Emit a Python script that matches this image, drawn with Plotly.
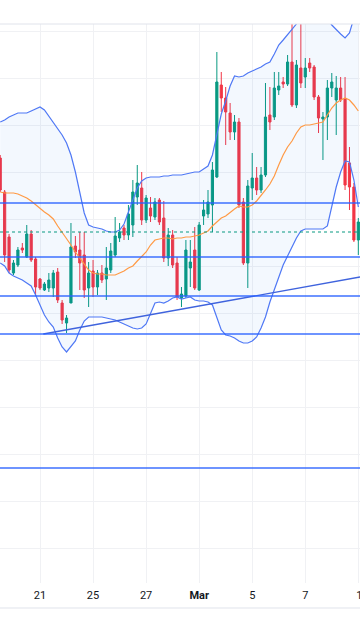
import plotly.graph_objects as go

# ---- data (price units) ----
candle_idx = list(range(82))
open_ = [842, 808, 763, 727, 735, 752, 743, 766, 741, 721, 710, 712, 712, 728, 697, 677, 697, 754, 750, 745,
         712, 729, 713, 727, 721, 730, 745, 762, 772, 765, 775, 803, 812, 780, 792, 783, 800, 782, 742, 765,
         737, 702, 704, 732, 750, 710, 784, 786, 795, 823, 915, 902, 887, 868, 878, 798, 737, 812, 822, 810,
         825, 885, 883, 910, 918, 916, 938, 895, 932, 923, 937, 933, 903, 881, 883, 912, 900, 912, 901, 837,
         813, 760]
high = [845, 810, 766, 740, 753, 757, 775, 770, 743, 722, 718, 727, 730, 732, 700, 685, 777, 764, 768, 768,
        738, 740, 730, 735, 753, 757, 783, 777, 775, 795, 820, 835, 828, 805, 803, 802, 802, 799, 772, 770,
        743, 713, 760, 760, 773, 778, 800, 810, 838, 948, 928, 913, 897, 885, 882, 802, 820, 847, 833, 833,
        917, 913, 928, 928, 923, 945, 980, 940, 980, 942, 942, 935, 905, 888, 920, 927, 924, 923, 923, 853,
        817, 782]
low = [808, 738, 727, 725, 733, 747, 742, 738, 704, 710, 709, 708, 703, 697, 676, 667, 697, 742, 710, 702,
       693, 703, 705, 717, 700, 727, 743, 758, 760, 760, 763, 795, 775, 777, 778, 780, 775, 738, 734, 732,
       700, 693, 702, 713, 710, 709, 775, 782, 768, 822, 888, 855, 860, 860, 792, 735, 712, 800, 805, 807,
       823, 870, 880, 905, 912, 914, 893, 892, 912, 912, 928, 900, 867, 840, 860, 903, 865, 898, 810, 790,
       758, 745]
close = [810, 745, 730, 737, 750, 750, 766, 740, 713, 712, 716, 720, 727, 700, 680, 682, 753, 748, 737, 710,
         727, 713, 727, 720, 732, 749, 764, 768, 765, 786, 808, 817, 780, 802, 784, 798, 778, 742, 765, 735,
         703, 706, 750, 738, 712, 775, 790, 798, 830, 918, 902, 888, 868, 878, 795, 737, 814, 822, 810, 825,
         883, 878, 912, 914, 916, 938, 895, 935, 917, 932, 932, 903, 882, 883, 912, 918, 912, 900, 815, 813,
         760, 778]

bb_upper = [878, 880, 883, 885, 887, 887, 887, 889, 891, 893, 890, 884, 877, 871, 865, 857, 845, 828, 809, 787,
            775, 773, 772, 771, 769, 768, 768, 770, 776, 788, 801, 812, 819, 822, 823, 823, 823, 824, 824, 825,
            825, 825, 826, 827, 828, 828, 831, 834, 845, 866, 886, 899, 914, 924, 923, 924, 927, 929, 931, 933,
            936, 938, 946, 955, 960, 965, 971, 976, 982, 988, 992, 994, 992, 987, 981, 975, 970, 966, 962, 967,
            982, 995]
bb_lower = [737, 734, 727, 724, 722, 720, 717, 714, 705, 694, 685, 678, 673, 662, 653, 648, 653, 659, 670, 679,
            683, 683, 683, 683, 682, 681, 680, 678, 676, 674, 672, 671, 672, 676, 687, 697, 698, 697, 699, 702,
            703, 701, 702, 703, 700, 699, 699, 698, 695, 682, 670, 665, 664, 662, 659, 657, 657, 659, 663, 672,
            683, 698, 710, 723, 735, 744, 753, 762, 769, 771, 771, 771, 771, 771, 774, 795, 813, 828, 839, 838,
            820, 793]
bb_basis = [808, 807, 807, 807, 806, 804, 802, 799, 795, 792, 788, 785, 781, 774, 768, 761, 755, 748, 742, 736,
            730, 727, 726, 726, 725, 725, 725, 727, 729, 732, 734, 739, 744, 748, 755, 760, 761, 762, 762, 761,
            762, 762, 763, 763, 764, 765, 767, 769, 774, 778, 782, 784, 788, 791, 794, 793, 793, 795, 799, 804,
            810, 816, 824, 835, 845, 853, 859, 867, 873, 875, 875, 876, 877, 878, 885, 892, 897, 900, 902, 900,
            895, 889]

levels = [797, 743, 704, 666, 532]
last_price = 768
trend_x = [9.75, 81.4]
trend_y = [666, 723]

tick_idx = [9, 21, 33, 45, 57, 69, 81]
tick_text = ["21", "25", "27", "<b>Mar</b>", "5", "7", "\u00a0\u00a0\u00a011"]

GREEN = "#089981"
RED = "#f23645"
BAND = "#4f78f5"
LEVEL = "rgba(41,98,255,0.68)"
GRID = "#f0f1f4"

fig = go.Figure()

fig.add_trace(go.Scatter(x=candle_idx, y=bb_upper, mode="lines",
                         line=dict(color=BAND, width=1.2), hoverinfo="skip"))
fig.add_trace(go.Scatter(x=candle_idx, y=bb_lower, mode="lines", fill="tonexty",
                         fillcolor="rgba(33,120,243,0.055)",
                         line=dict(color=BAND, width=1.2), hoverinfo="skip"))
fig.add_trace(go.Scatter(x=candle_idx, y=bb_basis, mode="lines",
                         line=dict(color="#ff9a45", width=1.2), hoverinfo="skip"))

fig.add_trace(go.Candlestick(
    x=candle_idx, open=open_, high=high, low=low, close=close,
    increasing=dict(line=dict(color=GREEN, width=1), fillcolor=GREEN),
    decreasing=dict(line=dict(color=RED, width=1), fillcolor=RED),
    whiskerwidth=0, hoverinfo="skip"))

fig.add_trace(go.Scatter(x=trend_x, y=trend_y, mode="lines",
                         line=dict(color="#3f63dd", width=1.3), hoverinfo="skip"))

shapes = []
for lv in levels:
    shapes.append(dict(type="line", xref="paper", yref="y", x0=0, x1=1, y0=lv, y1=lv,
                       line=dict(color=LEVEL, width=2), layer="above"))
shapes.append(dict(type="line", xref="paper", yref="y", x0=0, x1=1, y0=last_price, y1=last_price,
                   line=dict(color=GREEN, width=1, dash="dot"), layer="above"))
# pane borders
shapes.append(dict(type="line", xref="paper", yref="paper", x0=0, x1=1, y0=1, y1=1,
                   line=dict(color="#e0e3eb", width=1)))
shapes.append(dict(type="line", xref="paper", yref="paper", x0=0, x1=1, y0=-0.0447, y1=-0.0447,
                   line=dict(color="#e0e3eb", width=1)))

fig.update_layout(
    width=360, height=640,
    margin=dict(l=0, r=0, t=24, b=57, autoexpand=False),
    paper_bgcolor="white", plot_bgcolor="white",
    showlegend=False,
    shapes=shapes,
    xaxis=dict(range=[-0.05, 81.38], tickvals=tick_idx, ticktext=tick_text,
               showgrid=True, gridcolor=GRID, gridwidth=1, zeroline=False, showline=False,
               ticks="", ticklabelstandoff=4, ticklabeloverflow="allow", automargin=False,
               tickfont=dict(family="Roboto", size=11, color="#131722"),
               rangeslider=dict(visible=False), fixedrange=True),
    yaxis=dict(range=[417, 976], tick0=452, dtick=47, showticklabels=False,
               showgrid=True, gridcolor=GRID, gridwidth=1, zeroline=False, showline=False,
               fixedrange=True, automargin=False),
)

fig.write_html("out.html", config={"displayModeBar": False},
               post_script="document.body.style.margin='0';document.body.style.overflow='hidden';")
